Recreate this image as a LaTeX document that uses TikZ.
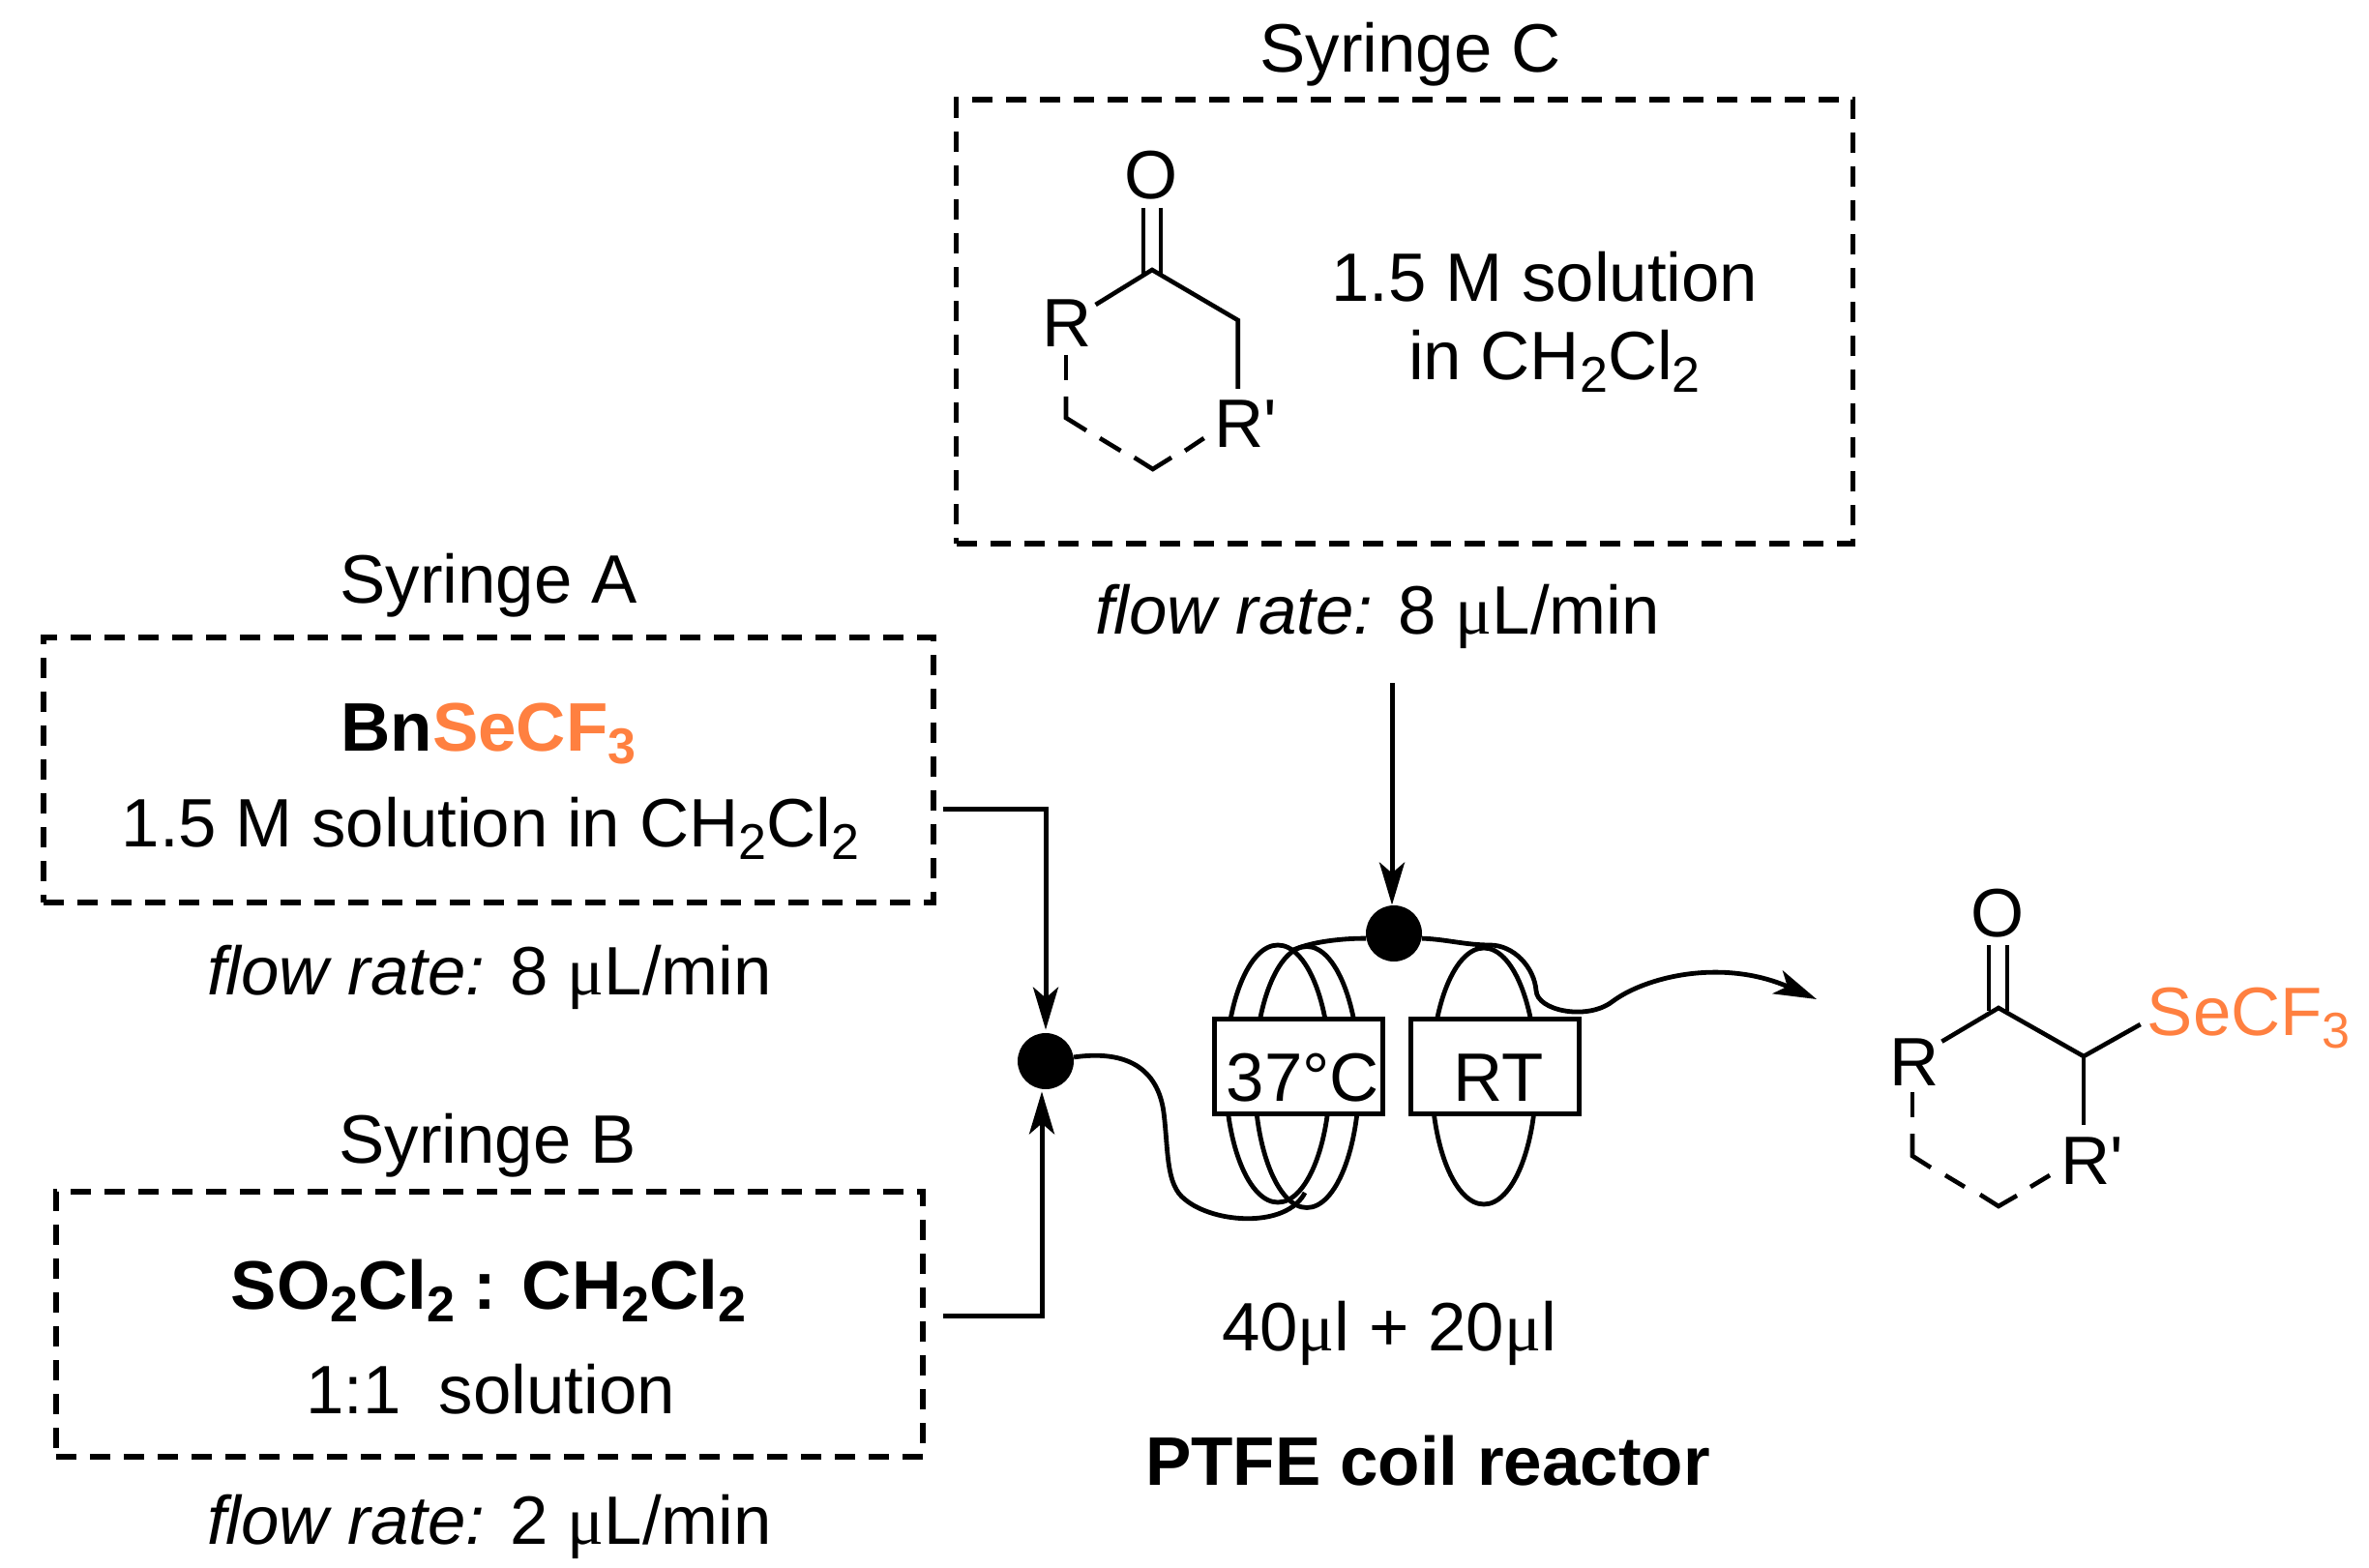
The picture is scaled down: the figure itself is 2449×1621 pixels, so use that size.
\documentclass[tikz,border=0pt]{standalone}
\usepackage{fontspec}
\setmainfont{Liberation Sans}
\newfontfamily\grk{Liberation Serif}
\usetikzlibrary{arrows.meta,calc}
\definecolor{se}{HTML}{FF8040}
\newcommand{\sbs}[1]{\raisebox{-6.5pt}{\fontsize{26}{26}\selectfont #1}}
\newcommand{\um}{{\grk μ}}
\newcommand{\dcm}{CH\sbs{2}Cl\sbs{2}}
\tikzset{
  lbl/.style={inner sep=0pt,anchor=base,font=\fontsize{35.4}{40}\selectfont},
  lblb/.style={lbl,font=\fontsize{35.5}{40}\selectfont\bfseries},
  lblw/.style={lbl,anchor=base west},
  syr/.style={draw,line width=2.6pt,dash pattern=on 10.5pt off 7pt,inner sep=0pt,minimum width=#1},
  junc/.style={circle,fill=black,inner sep=0pt,minimum size=29pt},
  tube/.style={line width=2.4pt},
  feed/.style={line width=2.5pt,-{Stealth[length=22pt,width=13pt,inset=5.5pt]}},
  bond/.style={line width=2.3pt},
  oven/.style={draw,fill=white,line width=2.5pt,inner sep=0pt,minimum width=87pt,minimum height=49pt},
}
\begin{document}
\begin{tikzpicture}[x=0.5pt,y=-0.5pt]
\useasboundingbox (0,0) rectangle (2449,1621);

% syringe boxes
\node[syr=460pt,minimum height=137pt] (boxA) at (505,796) {};
\node[syr=448pt,minimum height=137pt] (boxB) at (506,1369) {};
\node[syr=463.2pt,minimum height=229.5pt] (boxC) at (1452,332.5) {};

% captions
\node[lbl] (capC) at (1458,75) {Syringe C};
\node[lbl] (capA) at (505,623) {Syringe A};
\node[lbl] (capB) at (504,1202) {Syringe B};
\node[lbl] (solC1) at (1597,311.5) {1.5 M solution};
\node[lbl] (solC2) at (1607,393) {in \dcm};
\node[lbl] (rateC) at (1424,655) {\textit{flow rate:} 8 \um L/min};
\node[lblb] (reagA) at (505,776) {Bn\textcolor{se}{SeCF\sbs{3}}};
\node[lbl] (solA) at (507,875) {1.5 M solution in \dcm};
\node[lbl] (rateA) at (506,1028) {\textit{flow rate:} 8 \um L/min};
\node[lblb] (reagB) at (505,1353) {SO\sbs{2}Cl\sbs{2} : \dcm};
\node[lbl] (solB) at (507,1461) {1:1~ solution};
\node[lbl] (rateB) at (506,1596) {\textit{flow rate:} 2 \um L/min};
\node[lbl] (vol) at (1436,1396) {40\um l + 20\um l};
\node[lblb] (coil) at (1476,1535) {PTFE coil reactor};

% coils
\draw[tube] (1321,1110) ellipse [x radius=54,y radius=133];
\draw[tube] (1351,1113.5) ellipse [x radius=54,y radius=135];
\draw[tube] (1534,1112.5) ellipse [x radius=54,y radius=132.5];

% junctions
\node[junc] (ja) at (1081,1097) {};
\node[junc] (jc) at (1441,965) {};

% ovens
\node[oven] (ov37) at (1342,1102.5) {};
\node[oven] (ovRT) at (1545,1102.5) {};
\node[lbl] (t37) at (1347,1138) {37°C};
\node[lbl] (tRT) at (1549,1138) {RT};

% feeds
\coordinate (outA) at (975,836);
\coordinate (outB) at (975,1360);
\coordinate (outC) at (1439,706);
\coordinate (coilIn) at (1349,1233);
\coordinate (coilTop) at (1337,982);
\coordinate (prod) at (1878,1033);
\draw[feed,shorten >=1.5pt] (outA) -| (ja.north);
\draw[feed,shorten >=1pt] (outB) -| ([xshift=-2pt]ja.south);
\draw[feed] (outC) -- ([xshift=-1pt]jc.north);

% tube paths
\draw[tube] (ja.8) .. controls (1165,1085) and (1197,1105) .. (1203,1150)
  .. controls (1208,1190) and (1205,1225) .. (1225,1240)
  .. controls (1255,1265) and (1330,1270) .. (coilIn);
\draw[tube] (jc.190) .. controls (1395,970) and (1360,972) .. (coilTop);
\draw[tube,-{Stealth[length=22pt,width=13pt,inset=5.5pt]}] (jc.-10)
  .. controls (1495,971) and (1515,977) .. (1540,977)
  .. controls (1565,977) and (1586,1000) .. (1588,1024)
  .. controls (1589,1045) and (1640,1055) .. (1666,1036)
  .. controls (1700,1010) and (1780,990) .. (prod);

% ketone in box C
\node[lbl] (oC) at (1190.5,206) {O};
\node[lbl] (rC) at (1103,359) {R};
\node[lblw] (rpC) at (1255,463) {R\textquotesingle};
\draw[bond] (1182,215) -- (1182,283);
\draw[bond] (1200,215) -- (1200,283);
\draw[bond,line join=miter] (1132.6,315) -- (1191,279) -- (1279.7,331) -- (1279.7,402);
\draw[bond] (1102,367) -- (1102,393);
\draw[bond] (1102,410) -- (1102,432) -- (1123,445);
\draw[bond] (1137,453) -- (1158.5,466);
\draw[bond] (1172.6,473) -- (1191.7,485) -- (1211,473);
\draw[bond] (1225,466) -- (1244.6,453);

% product
\node[lbl] (oP) at (2065.5,968) {O};
\node[lbl] (rP) at (1979,1122) {R};
\node[lblw] (rpP) at (2130,1224) {R\textquotesingle};
\node[lblw,text=se] (seP) at (2219.5,1070.7) {SeCF\sbs{3}};
\draw[bond] (2056,977) -- (2056,1045);
\draw[bond] (2075,977) -- (2075,1045);
\draw[bond,line join=miter] (2007.4,1076.7) -- (2066,1042) -- (2154,1092) -- (2212.7,1059);
\draw[bond] (2154,1092) -- (2154,1163);
\draw[bond] (1977,1129) -- (1977,1155);
\draw[bond] (1977,1172) -- (1977,1195) -- (1996,1207);
\draw[bond] (2011,1215) -- (2031,1227);
\draw[bond] (2047,1235) -- (2066,1247) -- (2085,1236);
\draw[bond] (2099,1227) -- (2119,1215);
\end{tikzpicture}
\end{document}
